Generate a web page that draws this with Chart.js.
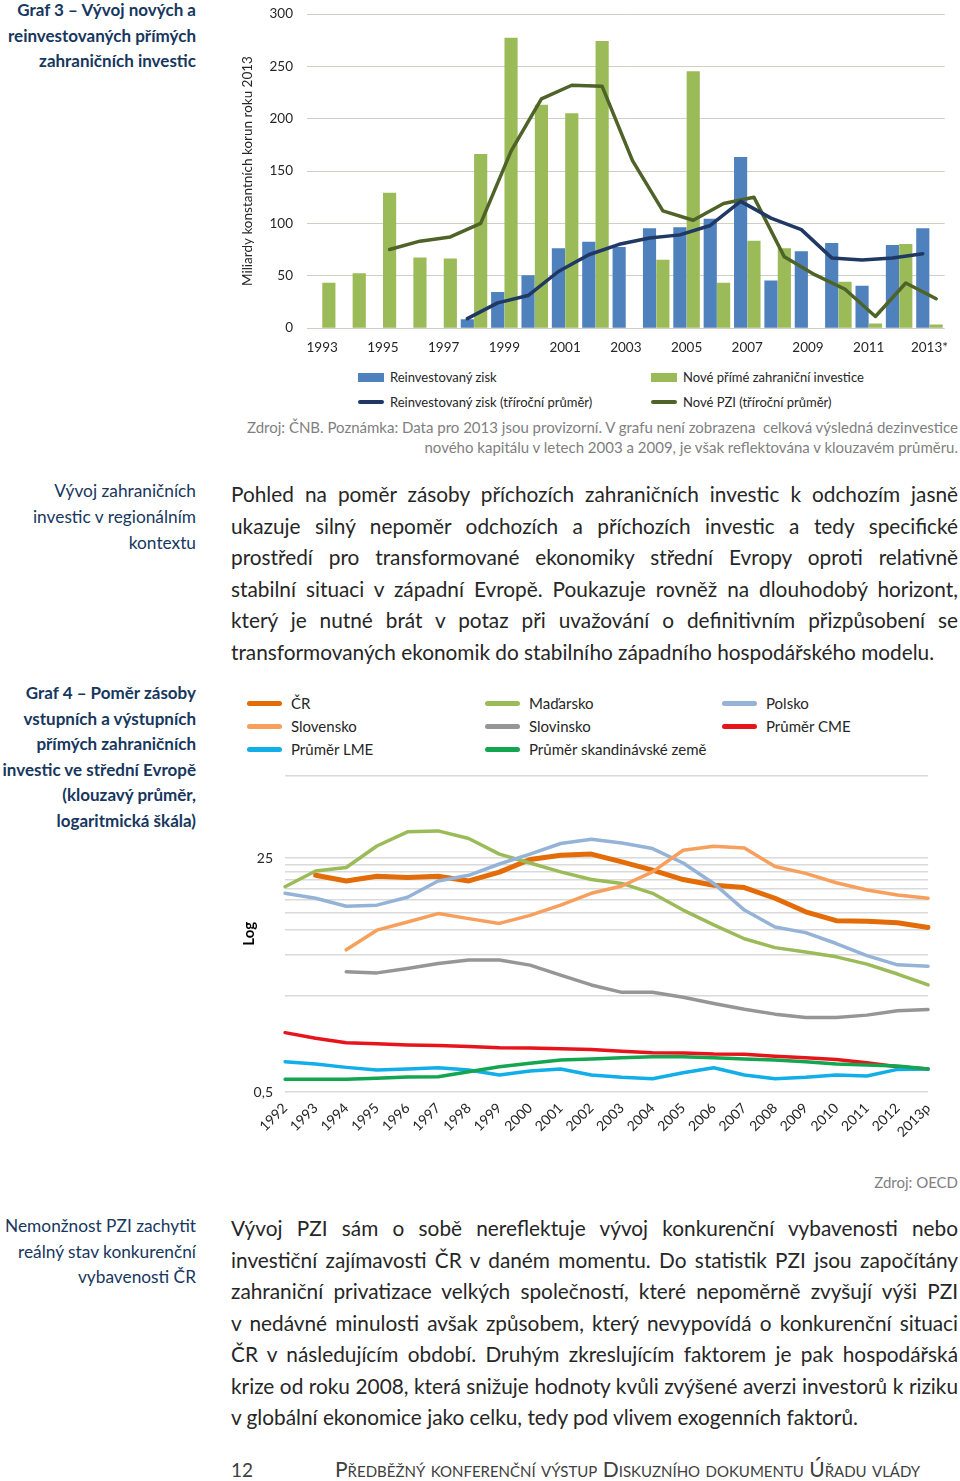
<!DOCTYPE html>
<html lang="cs">
<head>
<meta charset="utf-8">
<title>Graf 3 a Graf 4 – PZI</title>
<script src="https://cdn.jsdelivr.net/npm/chart.js@4.4.1/dist/chart.umd.min.js"></script>
<style>
  body { margin: 0; background: #fff; font-family: Lato, "Open Sans", sans-serif; color: #262626; }
  .page { position: relative; width: 960px; height: 1481px; overflow: hidden; }
  .abs { position: absolute; }
  .side { left: 0; width: 196px; text-align: right; color: #17375e; font-size: 17.3px; }
  .side.bold { font-weight: 700; font-size: 17px; }
  .para { left: 231px; width: 727px; font-size: 20.8px; line-height: 31.5px; color: #262626; }
  .para div { white-space: nowrap; text-align: justify; text-align-last: justify; }
  .para div.last { text-align-last: left; }
  .src { color: #7f7f7f; font-size: 15px; }
  .leg { font-size: 13px; color: #262626; display: flex; align-items: center; height: 20px; }
  .leg2 { font-size: 15px; color: #262626; display: flex; align-items: center; height: 20px; }
  .sw { display: inline-block; margin-right: 6px; }
</style>
</head>
<body>
<div class="page">

  <!-- Left-column headings -->
  <div class="abs side bold" style="top:-3px; line-height:25.5px;">Graf 3 – Vývoj nových a<br>reinvestovaných přímých<br>zahraničních investic</div>
  <div class="abs side" style="top:478px; line-height:26px;">Vývoj zahraničních<br>investic v regionálním<br>kontextu</div>
  <div class="abs side bold" style="top:680px; line-height:25.6px;">Graf 4 – Poměr zásoby<br>vstupních a výstupních<br>přímých zahraničních<br>investic ve střední Evropě<br>(klouzavý průměr,<br>logaritmická škála)</div>
  <div class="abs side" style="top:1213px; line-height:25.5px;">Nemonžnost PZI zachytit<br>reálný stav konkurenční<br>vybavenosti ČR</div>

  <!-- Graf 3 -->
  <canvas id="chart-fdi" class="abs" style="left:240px; top:-8px;" width="720" height="370"></canvas>
  <div id="legend-fdi"></div>
  <div class="abs src" style="left:200px; width:758px; top:417px; line-height:20px; text-align:right;">Zdroj: ČNB. Poznámka: Data pro 2013 jsou provizorní. V grafu není zobrazena&nbsp; celková výsledná dezinvestice<br>nového kapitálu v letech 2003 a 2009, je však reflektována v klouzavém průměru.</div>

  <div class="abs para" style="top:478px;">
    <div>Pohled na poměr zásoby příchozích zahraničních investic k odchozím jasně</div>
    <div>ukazuje silný nepoměr odchozích a příchozích investic a tedy specifické</div>
    <div>prostředí pro transformované ekonomiky střední Evropy oproti relativně</div>
    <div>stabilní situaci v západní Evropě. Poukazuje rovněž na dlouhodobý horizont,</div>
    <div>který je nutné brát v potaz při uvažování o definitivním přizpůsobení se</div>
    <div class="last">transformovaných ekonomik do stabilního západního hospodářského modelu.</div>
  </div>

  <!-- Graf 4 -->
  <div id="legend-ratio"></div>
  <canvas id="chart-ratio" class="abs" style="left:240px; top:755px;" width="708" height="405"></canvas>
  <div class="abs src" style="left:700px; width:258px; top:1172px; line-height:20px; text-align:right;">Zdroj: OECD</div>

  <div class="abs para" style="top:1212px;">
    <div>Vývoj PZI sám o sobě nereflektuje vývoj konkurenční vybavenosti nebo</div>
    <div>investiční zajímavosti ČR v daném momentu. Do statistik PZI jsou započítány</div>
    <div>zahraniční privatizace velkých společností, které nepoměrně zvyšují výši PZI</div>
    <div>v nedávné minulosti avšak způsobem, který nevypovídá o konkurenční situaci</div>
    <div>ČR v následujícím období. Druhým zkreslujícím faktorem je pak hospodářská</div>
    <div>krize od roku 2008, která snižuje hodnoty kvůli zvýšené averzi investorů k riziku</div>
    <div class="last">v globální ekonomice jako celku, tedy pod vlivem exogenních faktorů.</div>
  </div>

  <!-- Footer -->
  <div class="abs" style="left:231px; top:1458px; font-size:19px; line-height:24px; color:#404040;">12</div>
  <div class="abs" style="left:335px; top:1457px; font-size:21px; line-height:24px; color:#404040; font-variant:small-caps;">Předběžný konferenční výstup Diskuzního dokumentu Úřadu vlády</div>
</div>

<script>
/* ---------- Graf 3 data (mld. Kč, konstantní ceny 2013) ---------- */
const fdiYears = ['1993', '1994', '1995', '1996', '1997', '1998', '1999', '2000', '2001', '2002', '2003',
  '2004', '2005', '2006', '2007', '2008', '2009', '2010', '2011', '2012', '2013*'];
const reinvestedProfit = [null, null, null, null, null, 8, 34, 50, 76, 82, 77, 95, 96, 104, 163, 45, 73, 81, 40, 79, 95];
const newFdi = [43, 52, 129, 67, 66, 166, 277, 213, 205, 274, -1, 65, 245, 43, 83, 76, -1, 44, 4, 80, 3];
const reinvestedAvg = [null, null, null, null, null, 9, 24, 31, 54, 70, 80, 86, 89, 98, 121, 105, 94, 67, 65, 67, 71];
const newFdiAvg = [null, null, 75, 83, 87, 100, 169, 219, 232, 231, 160, 112, 103, 119, 125, 68, 51, 37, 11, 43, 28];

/* ---------- Graf 4 data (poměr zásob, log) ---------- */
const ratioYears = ['1992', '1993', '1994', '1995', '1996', '1997', '1998', '1999', '2000', '2001', '2002',
  '2003', '2004', '2005', '2006', '2007', '2008', '2009', '2010', '2011', '2012', '2013p'];
const czRatio = [null, 18.8, 17.1, 18.5, 18.1, 18.5, 17.1, 19.8, 24.5, 26.3, 26.8, 23.5, 20.5, 17.5, 15.9, 15.3, 12.8, 10.2, 8.8, 8.7, 8.5, 7.85];
const huRatio = [15.5, 20.2, 21.4, 30.7, 38.9, 39.5, 34.8, 26.8, 23.1, 19.9, 17.5, 16.4, 13.9, 10.5, 8.2, 6.5, 5.6, 5.2, 4.8, 4.25, 3.6, 3.0];
const plRatio = [13.9, 12.8, 11.2, 11.4, 13.0, 17.1, 18.8, 22.7, 26.8, 32, 34.4, 32.3, 29.4, 23.1, 16.4, 10.5, 7.9, 7.2, 6.0, 4.9, 4.2, 4.1];
const skRatio = [null, null, 5.4, 7.5, 8.6, 9.9, 9.1, 8.4, 9.6, 11.4, 13.9, 15.7, 19.9, 28.6, 30.6, 29.7, 21.8, 19.4, 16.6, 14.7, 13.5, 12.8];
const siRatio = [null, null, 3.74, 3.67, 3.95, 4.3, 4.55, 4.55, 4.18, 3.54, 3.0, 2.65, 2.65, 2.44, 2.2, 2.0, 1.84, 1.74, 1.74, 1.81, 1.95, 1.99];
const cmeRatio = [1.35, 1.23, 1.14, 1.12, 1.10, 1.09, 1.07, 1.05, 1.045, 1.03, 1.02, 0.99, 0.965, 0.96, 0.944, 0.94, 0.908, 0.887, 0.863, 0.816, 0.763, 0.734];
const lmeRatio = [0.83, 0.798, 0.755, 0.722, 0.734, 0.75, 0.722, 0.664, 0.711, 0.734, 0.664, 0.639, 0.625, 0.69, 0.75, 0.664, 0.625, 0.639, 0.664, 0.653, 0.73, 0.734];
const scandRatio = [0.618, 0.618, 0.618, 0.629, 0.643, 0.646, 0.702, 0.763, 0.808, 0.853, 0.869, 0.887, 0.902, 0.902, 0.887, 0.869, 0.853, 0.83, 0.798, 0.785, 0.772, 0.734];
const logTicks = [0.5, 2.5, 5, 7.5, 10, 12.5, 15, 17.5, 20, 22.5, 25, 100];

const FONT = 'Lato, "Open Sans", sans-serif';
// bars of a pair sit either side of the category centre; the 3-year lines follow their own bar
const BAR_SHIFT = 0.22;
const BAR_PX = 12.5;

const toPoints = (arr, shift) => arr
  .map((v, i) => (v === null ? null : { x: i + shift, y: v }))
  .filter(p => p);

// ---------- Graf 3 ----------
const renderFdiChart = () => {
  const barOpts = { xAxisID: 'xl', grouped: false, barThickness: BAR_PX, order: 2 };
  const lineOpts = { type: 'line', xAxisID: 'xl', borderWidth: 3.5, pointRadius: 0, tension: 0,
    borderCapStyle: 'round', borderJoinStyle: 'round' };

  new Chart(document.getElementById('chart-fdi'), {
    type: 'bar',
    data: {
      labels: fdiYears,
      datasets: [
        { ...barOpts, label: 'Reinvestovaný zisk', data: toPoints(reinvestedProfit, -BAR_SHIFT), backgroundColor: '#4f81bd' },
        { ...barOpts, label: 'Nové přímé zahraniční investice', data: toPoints(newFdi, BAR_SHIFT), backgroundColor: '#9bbb59' },
        { ...lineOpts, label: 'Reinvestovaný zisk (tříroční průměr)', data: toPoints(reinvestedAvg, -BAR_SHIFT),
          borderColor: '#1f3864', order: 0 },
        { ...lineOpts, label: 'Nové PZI (tříroční průměr)', data: toPoints(newFdiAvg, BAR_SHIFT),
          borderColor: '#4f6228', order: 1 }
      ]
    },
    options: {
      responsive: false,
      animation: false,
      layout: { padding: { top: 5, right: 0, bottom: 0, left: 0 } },
      plugins: { legend: { display: false }, tooltip: { enabled: false } },
      scales: {
        x: {
          grid: { display: false, drawTicks: false },
          border: { display: false },
          afterFit: s => { s.height = 34; },
          ticks: {
            autoSkip: false, maxRotation: 0, padding: 12, color: '#262626', font: { family: FONT, size: 13.5 },
            callback: (v, i) => (i % 2 === 0 ? fdiYears[i] : '')
          }
        },
        xl: { type: 'linear', display: false, offset: false, min: -0.5, max: fdiYears.length - 0.5 },
        y: {
          min: 0, max: 300,
          afterFit: s => { s.width = 67; },
          grid: { color: '#cfcfc4', lineWidth: 1, drawTicks: false },
          border: { display: false },
          ticks: { stepSize: 50, padding: 14, color: '#262626', font: { family: FONT, size: 13.5 } },
          title: { display: true, text: 'Miliardy konstantních korun roku 2013', color: '#262626',
            font: { family: FONT, size: 13.5 }, padding: 0 }
        }
      }
    }
  });

  // legend rows under the chart
  const items = [
    { text: 'Reinvestovaný zisk', color: '#4f81bd', bar: true, left: 358, top: 367 },
    { text: 'Nové přímé zahraniční investice', color: '#9bbb59', bar: true, left: 651, top: 367 },
    { text: 'Reinvestovaný zisk (tříroční průměr)', color: '#1f3864', bar: false, left: 358, top: 392 },
    { text: 'Nové PZI (tříroční průměr)', color: '#4f6228', bar: false, left: 651, top: 392 }
  ];
  document.getElementById('legend-fdi').innerHTML = items.map(it => `
    <div class="abs leg" style="left:${it.left}px; top:${it.top}px;">
      <span class="sw" style="width:26px; height:${it.bar ? 9 : 4}px; background:${it.color}; border-radius:${it.bar ? 0 : 2}px;"></span>${it.text}
    </div>`).join('');
};

// ---------- Graf 4 ----------
const renderRatioChart = () => {
  const series = [
    { label: 'ČR', data: czRatio, color: '#e36c09', width: 5 },
    { label: 'Maďarsko', data: huRatio, color: '#9bbb59', width: 3.5 },
    { label: 'Polsko', data: plRatio, color: '#95b3d7', width: 3.5 },
    { label: 'Slovensko', data: skRatio, color: '#f79f5c', width: 3.5 },
    { label: 'Slovinsko', data: siRatio, color: '#969696', width: 3.5 },
    { label: 'Průměr CME', data: cmeRatio, color: '#e8141b', width: 3.5 },
    { label: 'Průměr LME', data: lmeRatio, color: '#12aee8', width: 3.5 },
    { label: 'Průměr skandinávské země', data: scandRatio, color: '#13a550', width: 3.5 }
  ];

  new Chart(document.getElementById('chart-ratio'), {
    type: 'line',
    data: {
      labels: ratioYears,
      datasets: series.map((s, i) => ({
        label: s.label, data: s.data, borderColor: s.color, borderWidth: s.width,
        pointRadius: 0, tension: 0, order: series.length - i,
        borderCapStyle: 'round', borderJoinStyle: 'round'
      }))
    },
    options: {
      responsive: false,
      animation: false,
      layout: { padding: { top: 10, right: 2, bottom: 0, left: 0 } },
      plugins: { legend: { display: false }, tooltip: { enabled: false } },
      scales: {
        x: {
          grid: { display: false, drawTicks: false },
          border: { display: false },
          afterFit: s => { s.height = 68; },
          ticks: { autoSkip: false, minRotation: 45, maxRotation: 45, padding: 8, color: '#262626',
            font: { family: FONT, size: 14 } }
        },
        y: {
          type: 'logarithmic', min: 0.5, max: 100,
          afterFit: s => { s.width = 45; },
          afterBuildTicks: s => { s.ticks = logTicks.map(v => ({ value: v })); },
          grid: { color: '#dadada', lineWidth: 1.5, drawTicks: false },
          border: { display: false },
          ticks: { padding: 12, color: '#262626', font: { family: FONT, size: 14 },
            callback: v => (v === 25 ? '25' : v === 0.5 ? '0,5' : '') },
          title: { display: true, text: 'Log', color: '#000', font: { family: FONT, size: 15, weight: 'bold' }, padding: 0 }
        }
      }
    }
  });

  // three-column legend above the plot
  const cols = [247, 485, 722];
  const rows = [693, 716, 739];
  document.getElementById('legend-ratio').innerHTML = series.map((s, i) => `
    <div class="abs leg2" style="left:${cols[i % 3]}px; top:${rows[Math.floor(i / 3)]}px;">
      <span class="sw" style="width:35px; height:5px; background:${s.color}; border-radius:3px; margin-right:9px;"></span>${s.label}
    </div>`).join('');
};

// shrink any paragraph line that would not fit its justified width
const fitLines = () => {
  document.querySelectorAll('.para div').forEach(el => {
    let size = parseFloat(getComputedStyle(el).fontSize);
    while (el.scrollWidth > el.clientWidth + 0.5 && size > 14) {
      size -= 0.2;
      el.style.fontSize = size + 'px';
    }
  });
};

renderFdiChart();
renderRatioChart();
fitLines();
</script>
</body>
</html>
